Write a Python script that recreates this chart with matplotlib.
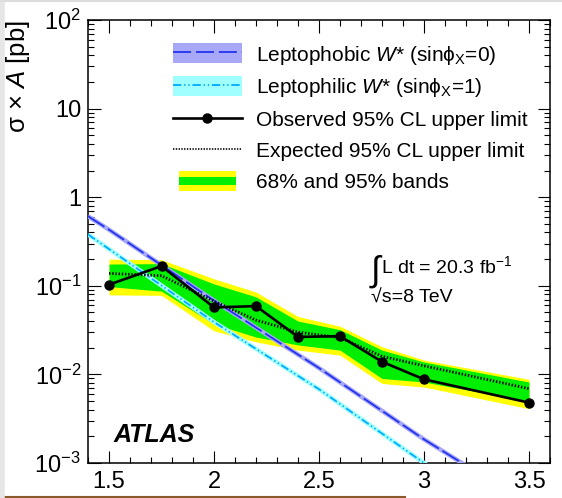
import matplotlib
matplotlib.use('Agg')
import matplotlib.pyplot as plt
from matplotlib.patches import Rectangle, Patch
from matplotlib.lines import Line2D
from matplotlib.legend_handler import HandlerBase
from matplotlib.ticker import FixedLocator, FixedFormatter, MultipleLocator

plt.rcParams['font.family'] = ['Liberation Sans', 'DejaVu Sans']
plt.rcParams['mathtext.fontset'] = 'custom'
plt.rcParams['mathtext.rm'] = 'Liberation Sans'
plt.rcParams['mathtext.it'] = 'Liberation Sans:italic'
plt.rcParams['mathtext.bf'] = 'Liberation Sans:bold'
plt.rcParams['lines.scale_dashes'] = False

# W* mass points [TeV] and limits on sigma x A [pb]
mass = [1.5, 1.75, 2.0, 2.2, 2.4, 2.6, 2.8, 3.0, 3.5]
observed = [0.103, 0.167, 0.057, 0.059, 0.0265, 0.027, 0.0139, 0.0088, 0.0048]
expected = [0.138, 0.130, 0.067, 0.041, 0.030, 0.026, 0.016, 0.0125, 0.0069]
exp_1s_up = [0.176, 0.178, 0.105, 0.075, 0.040, 0.032, 0.0188, 0.0138, 0.0082]
exp_1s_dn = [0.098, 0.087, 0.037, 0.0264, 0.0215, 0.0188, 0.0090, 0.0082, 0.0050]
exp_2s_up = [0.200, 0.197, 0.120, 0.085, 0.045, 0.035, 0.0205, 0.0145, 0.0088]
exp_2s_dn = [0.079, 0.078, 0.031, 0.0233, 0.0188, 0.0165, 0.0079, 0.0072, 0.0041]

# theory predictions
theory_mass = [1.4, 1.5, 2.0, 2.5, 3.0, 3.25]
leptophobic = [0.61, 0.43, 0.068, 0.0118, 0.00185, 0.00079]
leptophilic = [0.38, 0.26, 0.039, 0.0068, 0.00100, 0.00040]

x_ticks = [1.5, 2.0, 2.5, 3.0, 3.5]
x_tick_labels = ['1.5', '2', '2.5', '3', '3.5']
y_ticks = [1e-3, 1e-2, 1e-1, 1, 10, 100]
y_tick_labels = ['$10^{-3}$', '$10^{-2}$', '$10^{-1}$', '1', '10', '$10^{2}$']

YELLOW = '#ffff00'
GREEN = '#00ee00'
PHOBIC = '#2233ee'
PHOBIC_BAND = '#a8a8f8'
PHILIC = '#00aaff'
PHILIC_BAND = '#a0ffff'


class BandHandler(HandlerBase):
    # yellow box with a green stripe through the middle
    def create_artists(self, legend, orig_handle, xdescent, ydescent,
                       width, height, fontsize, trans):
        inset = 0.08 * width
        x0 = -xdescent + inset
        w = width - 2 * inset
        y0 = -ydescent
        outer = Rectangle((x0, y0), w, height, facecolor=YELLOW,
                          edgecolor='none', transform=trans)
        inner = Rectangle((x0, y0 + height * 0.3), w, height * 0.4,
                          facecolor=GREEN, edgecolor='none', transform=trans)
        return [outer, inner]


fig = plt.figure(figsize=(5.62, 4.98), dpi=100)
ax = fig.add_axes([0.1566, 0.0703, 0.822, 0.8895])

ax.fill_between(mass, exp_2s_dn, exp_2s_up, color=YELLOW, lw=0, zorder=1)
ax.fill_between(mass, exp_1s_dn, exp_1s_up, color=GREEN, lw=0, zorder=2)

ax.plot(theory_mass, leptophobic, color=PHOBIC_BAND, lw=3.2,
        solid_capstyle='butt', zorder=3)
ax.plot(theory_mass, leptophobic, color=PHOBIC, lw=1.3,
        dashes=(14, 3), zorder=4)
ax.plot(theory_mass, leptophilic, color=PHILIC_BAND, lw=3.2,
        solid_capstyle='butt', zorder=3)
ax.plot(theory_mass, leptophilic, color=PHILIC, lw=1.3,
        dashes=(6, 2, 1, 2, 1, 2), zorder=4)

ax.plot(mass, expected, color='black', lw=2.0, dashes=(1, 1.3), zorder=5)
ax.plot(mass, observed, color='black', lw=1.9, marker='o', ms=6.5, zorder=6)

ax.set_yscale('log')
ax.set_xlim(1.4, 3.6)
ax.set_ylim(1e-3, 1e2)

ax.xaxis.set_major_locator(FixedLocator(x_ticks))
ax.xaxis.set_major_formatter(FixedFormatter(x_tick_labels))
ax.xaxis.set_minor_locator(MultipleLocator(0.1))
ax.yaxis.set_major_locator(FixedLocator(y_ticks))
ax.yaxis.set_major_formatter(FixedFormatter(y_tick_labels))

ax.tick_params(which='both', direction='in', top=True, right=True, width=0.8)
ax.tick_params(which='major', length=9)
ax.tick_params(which='minor', length=4.5)
ax.tick_params(axis='x', pad=6, labelsize=17)
ax.tick_params(axis='y', pad=5, labelsize=17)
for sp in ax.spines.values():
    sp.set_linewidth(1.1)

ax.set_ylabel('σ × $A$ [pb]', fontsize=18.5, loc='top')
ax.yaxis.set_label_coords(-0.122, 1.0)

ax.text(0.055, 0.047, 'ATLAS', transform=ax.transAxes, fontsize=18,
        fontweight='bold', fontstyle='italic')
ax.text(0.612, 0.412, '∫', transform=ax.transAxes, fontsize=25,
        va='baseline')
ax.text(0.635, 0.428, 'L dt = 20.3 fb$^{-1}$', transform=ax.transAxes,
        fontsize=14, va='baseline')
ax.text(0.612, 0.362, '√s=8 TeV', transform=ax.transAxes, fontsize=14,
        va='baseline')

h_phobic = (Patch(facecolor=PHOBIC_BAND, edgecolor='none'),
            Line2D([], [], color=PHOBIC, lw=1.3, dashes=(13, 3.5)))
h_philic = (Patch(facecolor=PHILIC_BAND, edgecolor='none'),
            Line2D([], [], color=PHILIC, lw=1.3, dashes=(6, 2, 1, 2, 1, 2)))
h_obs = Line2D([], [], color='black', lw=1.9, marker='o', ms=6.5)
h_exp = Line2D([], [], color='black', lw=1.2, dashes=(1, 1))
h_band = Patch(facecolor=YELLOW)

labels = [r'Leptophobic $W$* (sin$\mathrm{\phi}_{\rm X}$=0)',
          r'Leptophilic $W$* (sin$\mathrm{\phi}_{\rm X}$=1)',
          'Observed 95% CL upper limit',
          'Expected 95% CL upper limit',
          '68% and 95% bands']
ax.legend([h_phobic, h_philic, h_obs, h_exp, h_band], labels,
          handler_map={h_band: BandHandler()},
          loc='upper left', bbox_to_anchor=(0.184, 0.947), frameon=False,
          fontsize=15, handlelength=3.3, handleheight=1.1,
          handletextpad=0.7, labelspacing=0.47, borderpad=0,
          borderaxespad=0, numpoints=1)

# screen edge lines around the figure
fig.add_artist(Line2D([0, 0.72], [0.003, 0.003], transform=fig.transFigure,
                      color='#8b5a2b', lw=1.5))
fig.add_artist(Line2D([0.004, 0.004], [0, 1], transform=fig.transFigure,
                      color='#e6e6e6', lw=4))
fig.add_artist(Line2D([0, 1], [0.997, 0.997], transform=fig.transFigure,
                      color='#dcdcdc', lw=1.5))

fig.savefig('out.png', dpi=100)
